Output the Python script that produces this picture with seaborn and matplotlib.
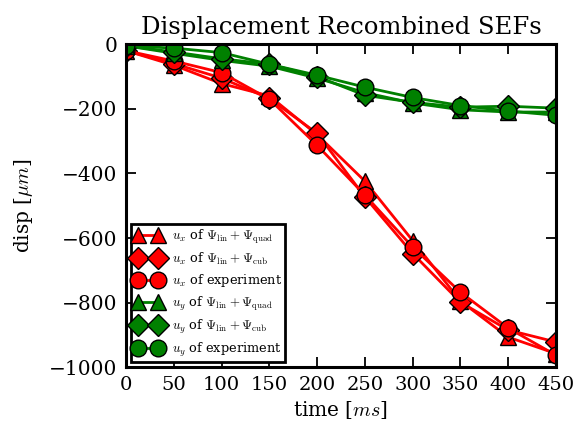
import matplotlib
matplotlib.use("Agg")
import matplotlib.pyplot as plt
import seaborn as sns
import pandas as pd

# time samples [ms]
time_ms = [0, 50, 100, 150, 200, 250, 300, 350, 400, 450]

# x-displacement [um]
ux_quad = [-20, -65, -122, -160, -280, -424, -608, -795, -907, -958]
ux_cub = [-20, -60, -105, -168, -276, -473, -648, -799, -885, -922]
ux_exp = [-20, -52, -88, -170, -313, -467, -628, -768, -879, -963]

# y-displacement [um]
uy_quad = [-5, -28, -50, -68, -105, -150, -182, -203, -210, -210]
uy_cub = [-5, -24, -45, -62, -100, -158, -180, -195, -192, -198]
uy_exp = [-5, -12, -26, -62, -96, -133, -165, -190, -207, -220]

series_labels = [
    r"$u_x$ of $\Psi_{\rm lin}+\Psi_{\rm quad}$",
    r"$u_x$ of $\Psi_{\rm lin}+\Psi_{\rm cub}$",
    r"$u_x$ of experiment",
    r"$u_y$ of $\Psi_{\rm lin}+\Psi_{\rm quad}$",
    r"$u_y$ of $\Psi_{\rm lin}+\Psi_{\rm cub}$",
    r"$u_y$ of experiment",
]
series_values = [ux_quad, ux_cub, ux_exp, uy_quad, uy_cub, uy_exp]
series_colors = ["#ff0000", "#ff0000", "#ff0000", "#008000", "#008000", "#008000"]
series_markers = ["^", "D", "o", "^", "D", "o"]
series_msize = [12, 11, 12, 12, 11, 12]

sns.set_style("ticks")
plt.rcParams.update({
    "font.family": ["DejaVu Serif"],
    "mathtext.fontset": "cm",
    "font.size": 14,
    "text.color": "black",
    "axes.labelcolor": "black",
    "xtick.labelcolor": "black",
    "ytick.labelcolor": "black",
    "xtick.direction": "in",
    "ytick.direction": "in",
    "xtick.top": True,
    "ytick.right": True,
    "xtick.major.size": 7,
    "ytick.major.size": 7,
    "xtick.major.width": 1.3,
    "ytick.major.width": 1.3,
    "xtick.major.pad": 6,
    "ytick.major.pad": 6,
    "axes.linewidth": 2.2,
    "axes.edgecolor": "black",
    "xtick.color": "black",
    "ytick.color": "black",
    "axes.unicode_minus": True,
})

fig = plt.figure(figsize=(5.75, 4.25), dpi=100)
ax = fig.add_axes([0.219, 0.136, 0.748, 0.760])

for label, vals, col, mk, ms in zip(series_labels, series_values,
                                     series_colors, series_markers, series_msize):
    df = pd.DataFrame({"time": time_ms, "disp": vals})
    sns.lineplot(data=df, x="time", y="disp", ax=ax, color=col, marker=mk,
                 markersize=ms, markeredgecolor="black", markeredgewidth=1.0,
                 linewidth=2.0, label=label, legend=False)

ax.set_xlim(0, 450)
ax.set_ylim(-1000, 0)
ax.set_xticks(range(0, 451, 50))
ax.set_yticks(range(-1000, 1, 200))
ax.tick_params(axis="x", labelsize=14)
ax.tick_params(axis="y", labelsize=14.5)
ax.set_title("Displacement Recombined SEFs", fontsize=17.5, pad=7)
ax.set_xlabel(r"time [$ms$]", fontsize=14.5)
ax.set_ylabel(r"disp [$\mu m$]", fontsize=14.5, labelpad=10)
for sp in ax.spines.values():
    sp.set_visible(True)

leg = ax.legend(loc="lower left", bbox_to_anchor=(0.012, 0.015), borderaxespad=0,
                fontsize=9.3, numpoints=2, handlelength=2.1, handletextpad=0.8,
                labelspacing=0.4, borderpad=0.25, fancybox=False, framealpha=1,
                edgecolor="black")
leg.get_frame().set_linewidth(2.0)

fig.savefig("out.png", dpi=100)
